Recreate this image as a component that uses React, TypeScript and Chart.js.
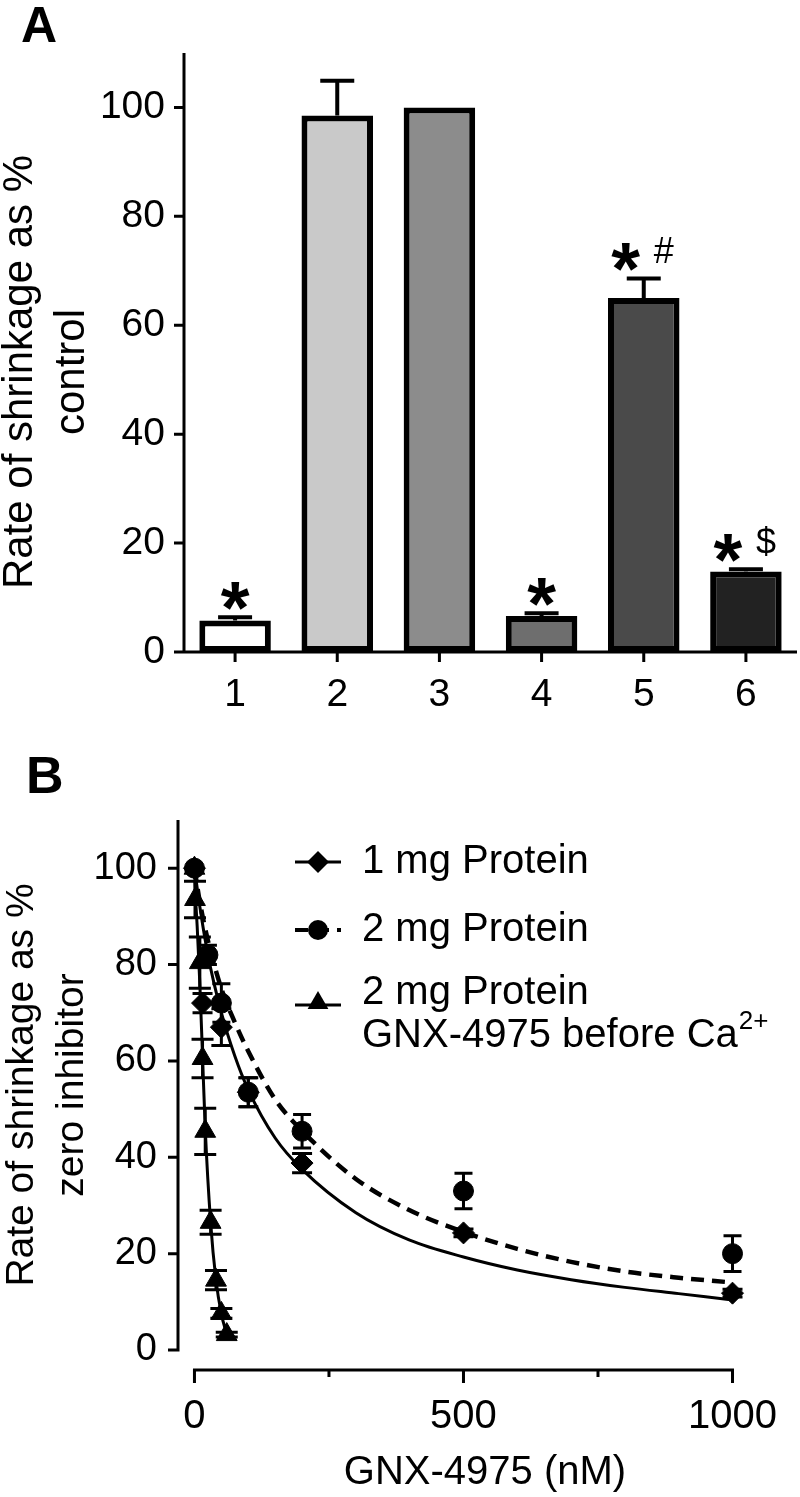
import React, { useEffect, useRef } from 'react';
import { Chart, registerables } from 'chart.js';

Chart.register(...registerables);

const FONT = '"Liberation Sans", Arial, Helvetica, sans-serif';

// ---------------- Panel A data ----------------
const A_CATEGORIES = ['1', '2', '3', '4', '5', '6'];
const A_VALUES = [5.8, 98.5, 100, 6.6, 65, 14.8];
const A_ERRORS = [0.6, 6.4, 0, 0.5, 3.6, 0.4];
const A_COLORS = ['#ffffff', '#c9c9c9', '#8c8c8c', '#6e6e6e', '#4a4a4a', '#222222'];
const A_STARS = [true, false, false, true, true, true];
const A_SYMBOLS = ['', '', '', '', '#', '$'];
const A_Y_TICKS = [0, 20, 40, 60, 80, 100];
const A_Y_TITLE = ['Rate of shrinkage as %', 'control'];

// ---------------- Panel B data ----------------
const B_X_TICKS = [0, 250, 500, 750, 1000];
const B_X_LABELED = [0, 500, 1000];
const B_Y_TICKS = [0, 20, 40, 60, 80, 100];
const B_Y_TITLE = ['Rate of shrinkage as %', 'zero inhibitor'];
const B_X_TITLE = 'GNX-4975 (nM)';

// 1 mg Protein (diamonds)
const P1_X = [0, 15, 50, 100, 200, 500, 1000];
const P1_Y = [100, 72, 67, 53.5, 38.8, 24.3, 11.8];
const P1_ERR = [0, 2, 3.8, 3, 2, 0.8, 0.8];
// 2 mg Protein (circles)
const P2_X = [0, 25, 50, 100, 200, 500, 1000];
const P2_Y = [100, 82, 72, 53.5, 45.4, 33, 20];
const P2_ERR = [0, 2, 4, 3, 3.5, 3.7, 3.7];
// 2 mg Protein, GNX-4975 before Ca2+ (triangles)
const P3_X = [0, 1, 10, 15, 20, 30, 40, 50, 60];
const P3_Y = [100, 93.5, 80.4, 60.5, 45.4, 26.5, 14.5, 7.6, 3.2];
const P3_ERR = [0, 3.8, 5.3, 4, 4.8, 2.5, 2, 1, 0.5];

// fitted curves
const FIT1_X = [0, 10, 25, 50, 75, 100, 150, 200, 300, 400, 500, 600, 700, 800, 900, 1000];
const FIT1_Y = [100, 92, 82, 70, 61, 54, 44, 37.5, 28.5, 22.8, 19.3, 16.6, 14.6, 13, 11.7, 10.4];
const FIT2_X = [0, 10, 25, 50, 75, 100, 150, 200, 300, 400, 500, 600, 700, 800, 900, 1000];
const FIT2_Y = [100, 93, 85, 75, 68, 62, 52, 45.5, 35.5, 29, 24.5, 21, 18.3, 16.3, 15, 14];
const FIT3_X = [0, 2.5, 5, 10, 15, 20, 30, 40, 50, 60];
const FIT3_Y = [100, 93, 88, 76, 61, 46, 26.5, 14.5, 7.5, 3.2];

const LEGEND_LABELS = ['1 mg Protein', '2 mg Protein', '2 mg Protein'];
const LEGEND_LINE2 = 'GNX-4975 before Ca';
const LEGEND_SUP = '2+';

const pts = (xs: number[], ys: number[]) => xs.map((x, i) => ({ x, y: ys[i] }));

function drawRotatedLines(ctx: CanvasRenderingContext2D, lines: string[], xs: number[], cy: number, font: string) {
  ctx.save();
  ctx.font = font;
  ctx.fillStyle = '#000';
  ctx.textAlign = 'center';
  ctx.textBaseline = 'middle';
  lines.forEach((t, i) => {
    ctx.save();
    ctx.translate(xs[i], cy);
    ctx.rotate(-Math.PI / 2);
    ctx.fillText(t, 0, 0);
    ctx.restore();
  });
  ctx.restore();
}

const panelAPlugin = {
  id: 'panelAExtras',
  afterDatasetsDraw(chart: any) {
    const { ctx, chartArea, scales } = chart;
    const { left, right, top, bottom } = chartArea;
    const x = scales.x;
    const y = scales.y;
    ctx.save();
    ctx.strokeStyle = '#000';
    ctx.fillStyle = '#000';
    // error bars (upper only)
    ctx.lineWidth = 4;
    A_VALUES.forEach((v, i) => {
      const e = A_ERRORS[i];
      if (!e) return;
      const cx = x.getPixelForValue(i);
      const y0 = y.getPixelForValue(v);
      const y1 = y.getPixelForValue(v + e);
      ctx.beginPath();
      ctx.moveTo(cx, y0);
      ctx.lineTo(cx, y1);
      ctx.moveTo(cx - 17, y1);
      ctx.lineTo(cx + 17, y1);
      ctx.stroke();
    });
    // axes
    ctx.lineWidth = 3;
    ctx.beginPath();
    ctx.moveTo(left, top);
    ctx.lineTo(left, bottom);
    ctx.moveTo(left - 10, bottom);
    ctx.lineTo(right, bottom);
    A_Y_TICKS.forEach((t) => {
      const py = y.getPixelForValue(t);
      ctx.moveTo(left - 10, py);
      ctx.lineTo(left, py);
    });
    A_CATEGORIES.forEach((_, i) => {
      const px = x.getPixelForValue(i);
      ctx.moveTo(px, bottom);
      ctx.lineTo(px, bottom + 10);
    });
    ctx.stroke();
    // significance marks
    A_VALUES.forEach((v, i) => {
      const cx = x.getPixelForValue(i);
      const yTop = y.getPixelForValue(v + A_ERRORS[i]);
      const cy = yTop - 27;
      const sym = A_SYMBOLS[i];
      if (A_STARS[i]) {
        ctx.font = `bold 74px ${FONT}`;
        ctx.textAlign = 'center';
        ctx.textBaseline = 'alphabetic';
        ctx.fillText('*', sym ? cx - 18 : cx, cy + 43);
      }
      if (sym) {
        ctx.font = `36px ${FONT}`;
        ctx.textAlign = 'center';
        ctx.textBaseline = 'middle';
        ctx.fillText(sym, cx + 20, cy + 2);
      }
    });
    // titles
    drawRotatedLines(ctx, A_Y_TITLE, [20, 72], 372, `42px ${FONT}`);
    ctx.font = `bold 50px ${FONT}`;
    ctx.textAlign = 'left';
    ctx.textBaseline = 'alphabetic';
    ctx.fillText('A', 21, 42);
    ctx.restore();
  },
};

function drawMarker(ctx: CanvasRenderingContext2D, style: string, x: number, y: number) {
  ctx.beginPath();
  if (style === 'diamond') {
    const r = 11;
    ctx.moveTo(x - r, y);
    ctx.lineTo(x, y - r);
    ctx.lineTo(x + r, y);
    ctx.lineTo(x, y + r);
    ctx.closePath();
  } else if (style === 'circle') {
    ctx.arc(x, y, 10, 0, Math.PI * 2);
  } else {
    const r = 12;
    ctx.moveTo(x, y - r);
    ctx.lineTo(x + r * 0.866, y + r * 0.5);
    ctx.lineTo(x - r * 0.866, y + r * 0.5);
    ctx.closePath();
  }
  ctx.fill();
}

const panelBPlugin = {
  id: 'panelBExtras',
  beforeDatasetsDraw(chart: any) {
    const { ctx, scales } = chart;
    const x = scales.x;
    const y = scales.y;
    ctx.save();
    ctx.strokeStyle = '#000';
    ctx.lineWidth = 3;
    const series: [number[], number[], number[], number][] = [
      [P1_X, P1_Y, P1_ERR, 10],
      [P2_X, P2_Y, P2_ERR, 9],
      [P3_X, P3_Y, P3_ERR, 11],
    ];
    series.forEach(([xs, ys, es, half]) => {
      xs.forEach((xv, i) => {
        const e = es[i];
        if (!e) return;
        const px = x.getPixelForValue(xv);
        const y1 = y.getPixelForValue(ys[i] + e);
        const y2 = y.getPixelForValue(ys[i] - e);
        ctx.beginPath();
        ctx.moveTo(px, y1);
        ctx.lineTo(px, y2);
        ctx.moveTo(px - half, y1);
        ctx.lineTo(px + half, y1);
        ctx.moveTo(px - half, y2);
        ctx.lineTo(px + half, y2);
        ctx.stroke();
      });
    });
    ctx.restore();
  },
  afterDraw(chart: any) {
    const { ctx, chartArea, scales } = chart;
    const { left, top, bottom } = chartArea;
    const x = scales.x;
    const y = scales.y;
    ctx.save();
    ctx.strokeStyle = '#000';
    ctx.fillStyle = '#000';
    ctx.lineWidth = 3;
    ctx.beginPath();
    // y axis (ends at 0)
    ctx.moveTo(left, top);
    ctx.lineTo(left, y.getPixelForValue(0) + 1.5);
    B_Y_TICKS.forEach((t) => {
      const py = y.getPixelForValue(t);
      ctx.moveTo(left - 10, py);
      ctx.lineTo(left + 1.5, py);
    });
    // x axis (offset below, from 0 to 1000)
    const x0 = x.getPixelForValue(B_X_TICKS[0]);
    const x1 = x.getPixelForValue(B_X_TICKS[B_X_TICKS.length - 1]);
    ctx.moveTo(x0 - 1.5, bottom);
    ctx.lineTo(x1 + 1.5, bottom);
    B_X_TICKS.forEach((t) => {
      const px = x.getPixelForValue(t);
      const len = B_X_LABELED.includes(t) ? 13 : 7;
      ctx.moveTo(px, bottom);
      ctx.lineTo(px, bottom + len);
    });
    ctx.stroke();

    // legend
    const lx0 = 295;
    const lx1 = 341;
    const mx = 318;
    const tx = 362;
    const rows = [142, 210, 285];
    ctx.lineWidth = 3;
    // row 1
    ctx.beginPath();
    ctx.moveTo(lx0, rows[0]);
    ctx.lineTo(lx1, rows[0]);
    ctx.stroke();
    drawMarker(ctx, 'diamond', mx, rows[0]);
    // row 2 dashed
    ctx.save();
    ctx.lineWidth = 4;
    ctx.setLineDash([13, 8]);
    ctx.beginPath();
    ctx.moveTo(lx0, rows[1]);
    ctx.lineTo(lx1, rows[1]);
    ctx.stroke();
    ctx.restore();
    drawMarker(ctx, 'circle', mx, rows[1]);
    // row 3
    ctx.beginPath();
    ctx.moveTo(lx0, rows[2]);
    ctx.lineTo(lx1, rows[2]);
    ctx.stroke();
    drawMarker(ctx, 'triangle', mx, rows[2] - 2);

    ctx.font = `40px ${FONT}`;
    ctx.textAlign = 'left';
    ctx.textBaseline = 'middle';
    ctx.fillText(LEGEND_LABELS[0], tx, rows[0]);
    ctx.fillText(LEGEND_LABELS[1], tx, rows[1]);
    ctx.fillText(LEGEND_LABELS[2], tx, 273);
    ctx.fillText(LEGEND_LINE2, tx, 316);
    const w = ctx.measureText(LEGEND_LINE2).width;
    ctx.font = `26px ${FONT}`;
    ctx.fillText(LEGEND_SUP, tx + w + 1, 302);

    // titles
    drawRotatedLines(ctx, B_Y_TITLE, [22, 72], 365, `39px ${FONT}`);
    ctx.font = `40px ${FONT}`;
    ctx.textAlign = 'center';
    ctx.textBaseline = 'middle';
    ctx.fillText(B_X_TITLE, 485, 753);
    ctx.font = `bold 52px ${FONT}`;
    ctx.textAlign = 'left';
    ctx.textBaseline = 'alphabetic';
    ctx.fillText('B', 26, 73);
    ctx.restore();
  },
};

export default function App() {
  const refA = useRef<HTMLCanvasElement | null>(null);
  const refB = useRef<HTMLCanvasElement | null>(null);

  useEffect(() => {
    const chartA = new Chart(refA.current as HTMLCanvasElement, {
      type: 'bar',
      data: {
        labels: A_CATEGORIES,
        datasets: [
          {
            data: A_VALUES,
            backgroundColor: A_COLORS,
            borderColor: '#000',
            borderWidth: 6,
            borderSkipped: false,
            categoryPercentage: 1,
            barPercentage: 0.7,
          },
        ],
      },
      options: {
        responsive: false,
        animation: false,
        devicePixelRatio: 1,
        layout: { padding: { top: 53, right: 3, left: 0, bottom: 0 } },
        plugins: { legend: { display: false }, tooltip: { enabled: false } },
        scales: {
          x: {
            grid: { display: false, drawTicks: false },
            border: { display: false },
            ticks: { color: '#000', font: { family: FONT, size: 39 }, padding: 20 },
            afterFit: (s: any) => {
              s.height = 68;
            },
          },
          y: {
            min: 0,
            max: 110,
            afterBuildTicks: (s: any) => {
              s.ticks = A_Y_TICKS.map((v) => ({ value: v }));
            },
            grid: { display: false, drawTicks: false },
            border: { display: false },
            ticks: { color: '#000', font: { family: FONT, size: 39 }, padding: 19 },
            afterFit: (s: any) => {
              s.width = 184;
            },
          },
        },
      },
      plugins: [panelAPlugin],
    } as any);

    const lineDs = (xs: number[], ys: number[], dash: number[], width: number) => ({
      type: 'line',
      data: pts(xs, ys),
      borderColor: '#000',
      borderWidth: width,
      borderDash: dash,
      pointRadius: 0,
      cubicInterpolationMode: 'monotone',
      showLine: true,
      fill: false,
      clip: false,
    });
    const pointDs = (xs: number[], ys: number[], style: string, r: number) => ({
      type: 'scatter',
      data: pts(xs, ys),
      pointStyle: style,
      pointRadius: r,
      pointBackgroundColor: '#000',
      pointBorderColor: '#000',
      pointBorderWidth: 1,
      showLine: false,
      clip: false,
    });

    const chartB = new Chart(refB.current as HTMLCanvasElement, {
      type: 'scatter',
      data: {
        datasets: [
          lineDs(FIT1_X, FIT1_Y, [], 3),
          lineDs(FIT2_X, FIT2_Y, [13, 8], 4.5),
          lineDs(FIT3_X, FIT3_Y, [], 3),
          pointDs(P1_X, P1_Y, 'rectRot', 11),
          pointDs(P2_X, P2_Y, 'circle', 10),
          pointDs(P3_X, P3_Y, 'triangle', 12),
        ],
      },
      options: {
        responsive: false,
        animation: false,
        devicePixelRatio: 1,
        layout: { padding: { top: 100, right: 49, left: 0, bottom: 0 } },
        plugins: { legend: { display: false }, tooltip: { enabled: false } },
        scales: {
          x: {
            type: 'linear',
            min: -30.6,
            max: 1000,
            afterBuildTicks: (s: any) => {
              s.ticks = B_X_TICKS.map((v) => ({ value: v }));
            },
            grid: { display: false, drawTicks: false },
            border: { display: false },
            ticks: {
              color: '#000',
              font: { family: FONT, size: 40 },
              padding: 23,
              autoSkip: false,
              maxRotation: 0,
              callback: (v: any) => (B_X_LABELED.includes(Number(v)) ? String(v) : ''),
            },
            afterFit: (s: any) => {
              s.height = 127;
            },
          },
          y: {
            type: 'linear',
            min: -4.15,
            max: 110,
            afterBuildTicks: (s: any) => {
              s.ticks = B_Y_TICKS.map((v) => ({ value: v }));
            },
            grid: { display: false, drawTicks: false },
            border: { display: false },
            ticks: { color: '#000', font: { family: FONT, size: 38 }, padding: 21 },
            afterFit: (s: any) => {
              s.width = 178;
            },
          },
        },
      },
      plugins: [panelBPlugin],
    } as any);

    return () => {
      chartA.destroy();
      chartB.destroy();
    };
  }, []);

  return (
    <div style={{ position: 'absolute', left: 0, top: 0, width: 800, height: 1497, background: '#fff' }}>
      <canvas ref={refA} width={800} height={720} style={{ position: 'absolute', left: 0, top: 0, display: 'block' }} />
      <canvas ref={refB} width={800} height={777} style={{ position: 'absolute', left: 0, top: 720, display: 'block' }} />
    </div>
  );
}
